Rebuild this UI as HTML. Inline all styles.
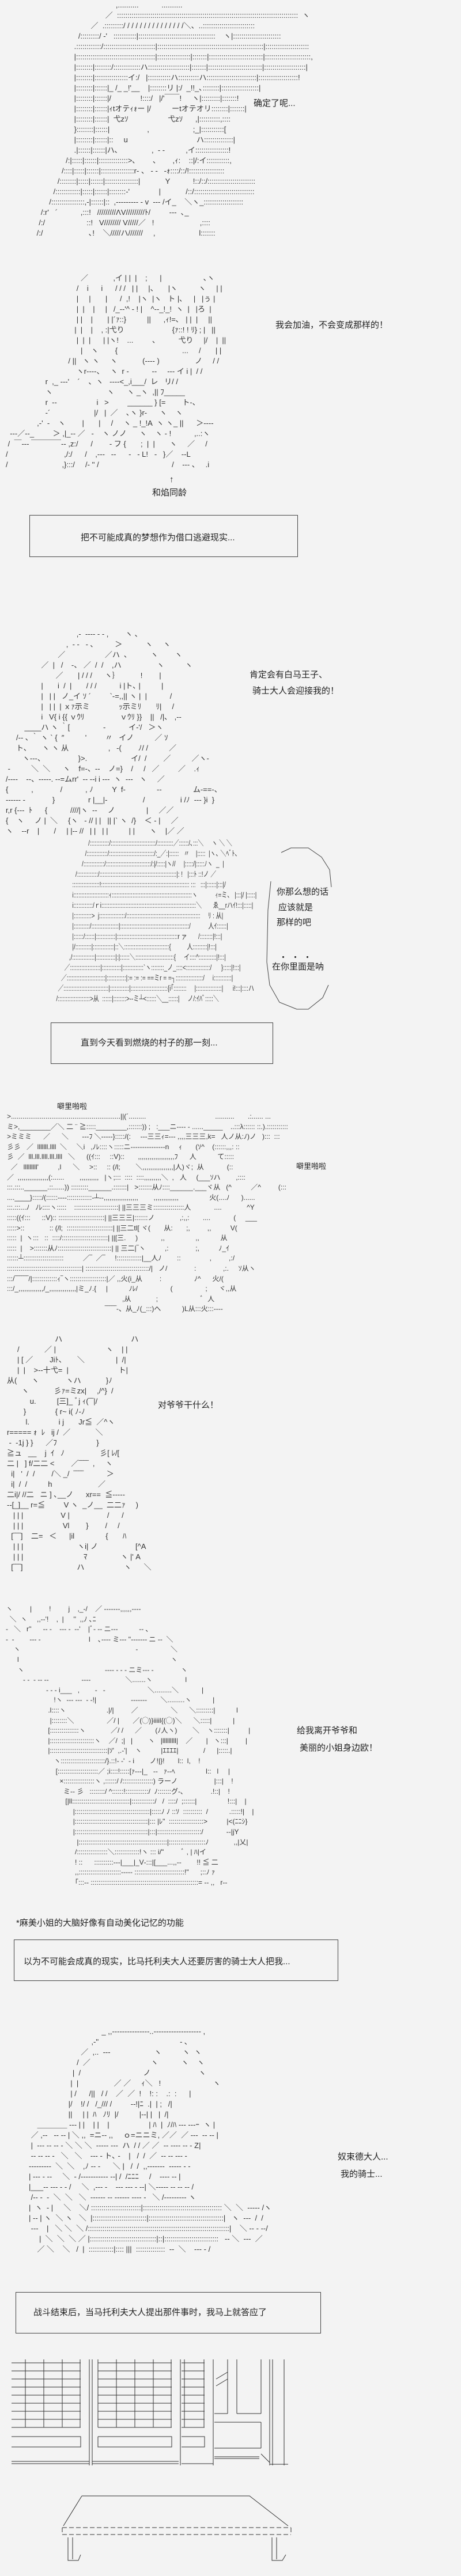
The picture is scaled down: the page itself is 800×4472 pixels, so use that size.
<!DOCTYPE html>
<html><head><meta charset="utf-8">
<style>
html,body{margin:0;padding:0;}
body{width:800px;height:4472px;background:#f3f3f3;position:relative;overflow:hidden;font-family:"Liberation Sans","Noto Sans CJK SC",sans-serif;color:#222;}
.t{position:absolute;font-size:15px;line-height:18px;white-space:nowrap;}
.box{position:absolute;border:1px solid #444;background:#f3f3f3;}
.box span{position:absolute;font-size:15px;line-height:18px;white-space:nowrap;}
pre{position:absolute;margin:0;font-family:"Liberation Sans","Noto Sans CJK JP",sans-serif;font-size:13px;line-height:18px;color:#333;white-space:pre;}
</style></head><body>

<pre style="left:60px;top:0px;">                                       ,..........           ..........
                                  ／  :::::::::::::::::::::::::::::::::::::::::::::::::::::::::::::::::::::::::::::::::::::::  ヽ
                           ／  .:::::::::/ / / / / / / / / / / / / / /＼、..:::::::::::::::::::::::::
                     /:::::::::/ ‐'   :::::::::::|:::::::::::::::::::::::::::::::::::::    ヽ|:::::::::::::::::::::::
                   .::::::::::::/:::::::::::::::::::::::::|:::::::::::::::::::::::::::::::::::::::::::::::::::|:::::::::::::::::::::
                   |::::::::::::::::::::::::::::::::::::::|::::::::::::::::|:::::::|::::::::::::::::::::::::::|::::::::::::::::::::::,
                   |::::::::|::::::::/:::::::::::::ハ::::::::::::::::::::|:::::::|::::::::::::::::::::::::::|::::::::::::::::::::|
                   |::::::::|::::::::::::::::イ:/   |:::::::::::ハ::::::::::ハ::::::::::::::::::::::::|:::::::::::::::::::!
                   |::::::::|::::::|_ /_ _!'__    |::::::::リ |:/  _!!_､::::::::|::::::::::::::::::|
                   |::::::::|::::::|/              !::::/   |/'￣￣!     ヽ|:::::::::|:::::::!
                   |::::::::|::::::|ｨtオテｨｫー |/          ーtオテオリ::::::::|:::::::|
                   |::::::::|::::::|  弋zｿ                   弋zｿ      ,|::::::::::,::::
                   }::::::::|::::::|                  ,                     ;_|:::::::::::[
                   |::::::::|::::::|::     u                                 ハ::::::::::::::|
                   .|::::::|::::::|ハ､                ,  ‐ ‐          ,イ::::::::::::::::!
               /:|:::::|::::::|::::::::::::::>､        、      ,ｨ:    ::|/:イ:::::::::::,
             /::::|:::::|::::::|::::::::::::::::r‐ 、 ‐ ‐   ‐ｫ::::/::/!:::::::::::::::::
           /::::::::|:::::|::::::|::::::::::::::::|            Y           !::/::/:::::::::::::::::::::::
         /::::::::::::|:::::|::::::|::::::::‐'              |            /::/:::::::::::::::::::::::::::::
       /::::::::::::::::,‐|::::::|::  ,‐‐‐‐‐‐‐‐‐ - v  ‐‐‐ /イ_    ＼ヽ_:::::::::::::::::::
   /:r'   ´           ,:::!   /////////ΛV/////////ﾄ/         ‐‐‐  ､_
  /:/                    ::!   V//////// V/////／   !                      ,::::
 /:/                      ､!    ＼/////ハ///////     ,                     l:::::::</pre>

<div class="t" style="left:440px;top:171px;">确定了呢...</div>

<pre style="left:10px;top:474px;">                                    ／            ,イ | |  |    ;      |                    ､ヽ
                                  /    i      i      / / /   | |     |、     |ヽ          ヽ     | |
                                  |     |       |      /  ,!    |ヽ  |ヽ   ト |､     |   |ぅ |
                                  |  |    |     |   /_-‐'^ ‐ ! |    ^‐-_!_!  ヽ  |   |ろ  |
                                  | |    |       | |´ｧ::}          ||      ,ｨ!=､   | |  |     ||
                                 |  |    |    , :|弋り                       {ｧ::! ! ﾘ} ; |   ||
                                  |  |  |      | |ヽ!    ...         、         弋り     |/    |  ||
                                    |    ヽ        {                               ...     /       | |
                              / ||   ヽ ヽ     ヽ            (‐‐‐‐ )                 ノ     / /
                                  ヽr‐‐‐‐、   ヽ  r ‐           ‐‐     ‐‐‐ イ i |  / /
                   r  ,_ ‐‐‐'    ´    、ヽ   ‐‐‐‐<_,i___/  レ   リ/ /
                   ヽ                          ヽ      ヽ _ヽ  ,|| ﾌ_____
                   r  ‐‐                   i   >         ______ } [=        ト‐、
                   ‐´                     |/   |  ／    ､ヽ }r‐      ヽ    ヽ
               ,‐'  ‐    ヽ        |       |     /     ヽ _ !_!A  ヽ ヽ_ ||      ＞‐‐‐‐
  ‐‐‐／‐‐_         ＞ ,|_‐‐ ／   ‐    ヽ ノノ      ヽ    ヽ ‐ !           ,..:ヽ
 /  ￣‐‐‐ ￣￣￣￣‐‐ ,z:/      /        ‐ フ {       ;  |  |       ヽ     ／     /
/                           ,/:/      /    ,‐‐‐   ‐‐      ‐   ‐ L!   ‐   }／    ‐‐L
/                          ,}:::/     /‐ '' /                                   /    ‐‐‐ 、   .i</pre>

<div class="t" style="left:478px;top:556px;">我会加油，不会变成那样的！</div>
<div class="t" style="left:294px;top:824px;">↑</div>
<div class="t" style="left:264px;top:847px;">和焰同龄</div>

<div class="box" style="left:51px;top:894px;width:464px;height:71px;"><span style="left:88px;top:30px;">把不可能成真的梦想作为借口逃避现实...</span></div>

<pre style="left:10px;top:1092px;">                                  ,‐  ‐‐‐‐ ‐ ‐ ,        ヽ ､
                             ,  ‐ ‐   ‐ ､          ＞           ヽ     ヽ
                         ／                   ／ハ  ､           ヽ        ヽ
                 ／  |   /    ‐、 ／  /  /    ,ハ                 ヽ          ヽ
                        ／       | / / /      ヽ｝          !        |
                 |       i  /  |       / / /           i |ト､ |          |
                 |   | |   ノ_イ ｿ ´         `‐=,,|| ヽ |  |           /
                 |   | |  | ｘｧ示ミ              ｯ示ミﾘ       ﾘ|     /
                 i   V{ i {{ ｖｳﾘ                 ｖｳﾘ }}    ||   /|､   ,‐‐
         ____ハ ヽ ｀[                ‐           イ‐'/   ＞ヽ
     /‐‐ ､ ｀ ヽ ` {  ″          ’         〃   イノ          ／ ｿ
     ト､       ヽ ヽ 从                   ,   ‐(        ﾉ/ /          ／
        ヽ‐‐‐、                }>.                     イ/  /        ／          ／ヽ‐
 ‐          ＼  ＼      ヽ    f=‐、‐‐    ノ=}    /     /   ／         ／    .ｨ
/‐‐‐‐    ‐‐、‐‐‐‐‐. ‐‐=ムrr'  ‐‐ ‐‐i i ‐‐‐  ヽ  ‐‐‐   ヽ     ／
{           ,             /           , ﾉ         Y  f‐               ‐‐               ム‐==‐、
‐‐‐‐‐‐ ‐             }                r |__|‐                 /                 i /ﾉ  ‐‐‐ }i  }
r,r {‐‐‐  ﾄ      {           ////|ヽ  ‐‐     ノ               |     ／／
{    ヽ     ノ |  ＼     {ヽ   ‐ // | |   || |` ヽ  /}    ＜ ‐ |     ／
ヽ    ‐‐r    |       /     | |‐‐ //   | |   | |          | |       ヽ    |／ ／</pre>

<div class="t" style="left:433px;top:1163px;">肯定会有白马王子、</div>
<div class="t" style="left:438px;top:1191px;">骑士大人会迎接我的！</div>

<pre style="left:92px;top:1455px;transform:scaleX(0.77);transform-origin:0 0;">                      /::::::::::::/::::::::::::::::::::::::::::/::::::::::／::::::/､:::＼     ヽ ＼ ＼
                    /:::::::::::::/::::::::::::::::::::::::::::/:_／:|::::::   〃    |:::::  |ヽ､ ＼ﾍﾞﾄ、
                  /:::::::::::::/::::::::::::::::::::::::::::/:|/:::::|ヽ//     |:::::/|:::::ﾉヽ  _  |
              /:::::::::::::/::::::::::::::::::::::::::::::::::::::::::::::::|: !   |:::ﾄ ::!ノ ／
            :::::::::::::::::!::::::::::::::::::::::::::::::::::::::::::::::::::::::: :::   :::|::::::|:::|/
            i::::::::::::::::::::::ｨ::::::::::::::::::::::::::::::::::::::::::::::::::ヽ           ｨ=ミ、 |:::|/ |:::::|
            i::::::::::::/ｒi:::::::::::::::::::::::::::::::::::::::::::::::::::::::::::＼       ゑ__rハｲ!:::|:::::|
            |:::::::::::>  j::::::::::::::::/::::::::::::::::::::::::::::::::::::::::::::::     ﾘ : 从|
            |::::::::::/:::::::::::::::::|:::::::::::::::::::::::::::::::::::::::::::/           人ｲ::::::|
            |::::::/::::::|::::::::::::|::::::::::::::::::::::::::::::::::::::r ァ       /::::::::|!:::|
            |/::::::::::|:::::::::::::|::＼::::::::::::::::::::::::::::{          人:::::::::|!:::|
          ,/::::::::::::::|::::::::::::|:|::::::＼::::::::::::::::::::::::{     イ::::^:::::::::::|!:::|
       ／:::::::::::::::::::|::::::::::::|:::::::::::::`ヽ::::::::_ノ_::::<:::::::::::::::/      }:::::|!:::|
     ／::::::::::::::::::::::::|::::::::::::|:= := := ==ミr = =┐:::::::::::::::::/     i:::::::::::|
   ／::::::::::::::::::::::::::::|::::::::::::|:::::::::::::::::::::::{i｢::::::::     |::::::::::::::::|      i!:::|::::ハ
  /::::::::::::::::::::>从  ::::::|::::::::>‐‐ミ┴<::::::＼__::::::|     ノ/:ｲﾊﾞ:::::＼</pre>

<svg style="position:absolute;left:460px;top:1470px;" width="120" height="285" viewBox="0 0 120 285">
<path d="M28 10 L45 2 L75 2 L98 18 L112 40 L115 70 M10 60 L5 110 L3 200 L8 240 L25 270 L55 282 L75 282 L100 262 L110 240" fill="none" stroke="#444" stroke-width="1"/>
</svg>
<div class="t" style="left:480px;top:1540px;">你那么想的话</div>
<div class="t" style="left:483px;top:1567px;">应该就是</div>
<div class="t" style="left:480px;top:1593px;">那样的吧</div>
<div class="t" style="left:484px;top:1654px;letter-spacing:6px;">・・・</div>
<div class="t" style="left:472px;top:1670px;">在你里面是呐</div>

<div class="box" style="left:88px;top:1775px;width:384px;height:70px;"><span style="left:51px;top:26px;">直到今天看到燃烧的村子的那一刻...</span></div>

<div class="t" style="left:99px;top:1912px;font-size:13px;">噼里啪啦</div>
<div class="t" style="left:514px;top:2016px;font-size:13px;">噼里啪啦</div>

<pre style="left:12px;top:1930px;font-size:12px;line-height:17.6px;">&gt;.........................................................||(´.........                                    ..........       .:...... ...
ミ&gt;,________／＼ 二 ¨ ≧:::::________,:::::::)) ;   :___ニ‐‐‐‐ ‐ ......_____    ..:::λ:::::: ::.).:::::::::::
&gt;ミミミ      ／      ＼       ‐‐‐ﾌ ＼‐‐‐‐‐}:::::/(:     ‐‐‐三三ｨ=‐‐‐ ,,,,三三三,k=   人ノ从:ﾉ)ノ   ):::  :::
彡彡   ／  lllllll.llll  ＼     ＼i   ,ﾉﾚ::::ヽ:::::ニ‐‐‐‐‐‐‐‐‐‐‐‐‐‐‐n     ｨ       (ｿ^    (::::::,,,: ::
彡  ／  lll.lll.llll.lll.llll   ＼      ((ｲ:::     ::V)::       ,,,,,,,,,,,,,,,,,,,ﾌ      人           て:::::
  ／   lllllllll'          ,l      ＼     &gt;::     :: (/l;        ＼,,,,,,,,,,,,,,,,|人)ヾ;  从            (::
／  ,,,,,,,,,,,,,,,,(:......        ,,,,,,,,,,   |ヽ;:::  ::::  ::::,,,,,,,,,＼  ,   人     (___ｿハ        ,::::
:::.:::..______.::......)) :::::::::______.:::::::|   &gt;:::::::从ﾉ::::______.___ヾ从   (^          ／^         (:::
....____}:::::/(::::::‐‐‐‐:::::::::::::‐┴‐‐,,,,,,,,,,,,,,,,,,        ,,,,,,,,,,,,,                火(....ﾉ      )......
:::.:::...ﾉ   ﾉﾚ::::ヽ:::::    :::::::::::::::::::::::| ||三三三ミ::::::::::::::::人            ....             ^Y
:::::((ｲ:::      ::V):: ::::::::::::::::::::::::| ||三三三|:::::::ノ             ,:,,:       ....            (     ___
:::::&gt;::             :: (/l;  ::::::::::::::::::::::::| ||三二tl[ ヾ(       从:       ;,         ,,          V(
:::::  |  ヽ:::   ::  ::::/::::::::::::::::::::::::| ||[三.     )            ,,                ,,           从
:::::  |    &gt;:::::::从ﾉ::::::::::::::::::::::::::::| || 三二|‾ヽ          ,:              ;,          ﾉ_ｲ
::::::┴:::::::::::::::::::::          ／‾  ／‾     !:::::::::::::|__人ﾉ        ::               ,         ,:/
:::::::::::::::::::::::::::::::::::::::| :::::::::::::::::::::::::::::::::/|   ノ/              :              ,:.     ｿ从ヽ
:::/‾‾‾‾‾‾/|:::::::::::::ｨ‾ヽ:::::::::::::::::::|／ ,,火(i_从         :                 ﾉ^      火/(
:::/_,,,,,,,,,,,,,/_,,,,,,,,,,,,,,|ミ_ﾉ.{     |           ﾉﾚ/                 (                 ;      ヾ,,从
                                                            ,从             ;                      ﾞ  人
                                                   ‾‾‾‾‾‐、从_ﾉ(_:::)へ           )L从:::火:::‐‐‐‐</pre>

<pre style="left:12px;top:2316px;">                       ハ                                 ハ
     /            ／ |                        ヽ    | |
     | [ ／        Jiﾄ､       ＼               |  /|
     |  |    &gt;‐‐十弋=  |                        ト|
从(       ヽ             ヽハ            }ﾉ
       ヽ            彡ｧ=ミzx|     ,/^}  /
           u.          [三]_ ﾞj ｨ(‾‾|/
        }              { r~ i( ﾉ‐ﾉ
         l.              i j       Jr≦  ／^ヽ
r===== ｫ  ﾚ   ij /  ／            ＼
 ‐  ‐1j } }      ／ﾌ                   }
≧ュ   __    j  ｲ   ﾉ                 彡[ ﾚ/[
二 |   ] f/二二 &lt;        ／‾‾‾‾  ,     ヽ
  i|   '  /  /        /＼ _/  ‾‾‾‾           ＞
  i|  /  /          h                      ／
二i|/ //二   ニ ] ､__ノ      xr==  ≦‐‐‐‐‐
‐‐[_]__ r=≦         V ヽ  _ノ__  二二ｧ     )
   | | |                  V |                  /      /
   | | |                   Vl        }        /     /
  [‾‾‾]    二=   ＜      |il               {       ﾊ
   | | |                          ヽi| ノ                  [^A
   | | |                             ﾏ                ヽ |' A
  [‾‾‾]                          ハ                   ヽ      ＼</pre>

<div class="t" style="left:274px;top:2431px;">对爷爷干什么！</div>

<pre style="left:10px;top:2785px;font-size:12px;line-height:17.6px;">ヽ         |         !         j    ,_‐/    ／ ‐‐‐‐‐‐‐,,,,,,‐‐‐‐
  ＼  ヽ     ,,‐‐'!    ,  |     ''  ,,ﾉ ､ﾆ
‐   ＼   r''      ‐‐ ‐    ‐‐‐ ‐  ‐‐'    |ﾞ‐ ‐‐ ニ‐‐‐           ‐‐ ､
‐  ‐        ‐‐‐ ‐                         l    ､‐‐‐‐ ミ‐‐‐ ''‐‐‐‐‐‐‐ ニ ‐‐  ＼
    ヽ                                                            ‐                 ＼
      l                                                                               ヽ
      ヽ                                          ‐‐‐‐ ‐ ‐ ‐ ニミ‐‐‐ ‐              ヽ
         ‐ ‐  ‐ ‐‐ ‐‐                 ‐‐‐‐                  ＼.......ヽ                 l
                     ‐ ‐ ‐ i___   ,        ‐   ‐                      ＼.........＼            |
                         !ヽ  ‐‐‐ ‐‐‐  ‐ ‐!|                  ‐‐‐‐‐‐‐       ＼.........ヽ           |
                      .l::::ヽ                     .|/|         ／                 ＼      ＼:::::::::|           l
                       |::::::::＼                 ／/ |       ／(◯)}iiiil{(◯)＼      ＼:::::|           |
                      [:::::::::::::::ヽ             ／/ /      ／       (ﾉ人ヽ)        ＼    ヽ:::::::|          |
                      |:::::::::::::::::::::::ヽ    ／/  ;|   |        ヽ   |lllllllll|    ／       |   ヽ:::|         |
                      |::::::::::::::::::::::::::::::|ｿ'  ,.‐'|    ヽ          |ｴｴｴｴ|             /      |:::::.|
                         ヽ:::::::::::::::::::::::/}.::!‐ ‐'  ‐ i        ノ!|}!       l::  l,    !
                          [:::::::::::::::::::::／ ;i::::!:::::[ｧ‐‐‐|_   ‐‐   ｧ‐‐ﾍ                l::   l     |
                            ×::::::::::::::::ヽ ,::::::/ /::::::::::::::::) ラーノ                   |:::|    !
                              ミ‐‐ 彡   ::::::::/ ^::::::!::::::::::::/  ﾉ:::::::グ‐､              .!::|    !
                               [|ll::::::::::::::::::::::::::::::|::::::::::::/   /  ::::/  ;::::::|                !:::|    |
                                   |:::::::::::::::::::::::::::::::::::::::|:::::ﾉ ﾉ ::ｿ  ::::::::::  /           .:::::!|    |
                                   |::::::::::::::::::::::::::::::::::::::|::: |ﾚ"  ::::::::::::::::::&gt;          |&lt;(ﾆﾆｼ}
                                   |::::::::::::::::::::::::::::::::::::::|:::|:::::::::::::::::::::::/            ‐‐|jY
                                     |::::::::::::::::::::::::::::::::::::::::::::::|:::::::::::::::::::ﾉ             ,,|乂|
                                    /::::::::::::::::＼:::::::::::::!ヽ ::: i/"         ﾞ , | ﾊ|イ
                                    ! ::      ::::::::::‐‐‐|___|_V‐:::|[___...,,‐‐        !! ≦ 二
                                    ,,::::::::::::::::::::::‐‐‐‐‐ ::::::::::::::::::::::::::!"      ;::ﾉ ｧ
                                    ｢:::‐‐ ::::::::::::::::::::::::::::::::::::::::::::::::::::::::= ‐‐ ,,   r‐‐</pre>

<div class="t" style="left:515px;top:2996px;">给我离开爷爷和</div>
<div class="t" style="left:520px;top:3026px;">美丽的小姐身边欧！</div>

<div class="t" style="left:28px;top:3330px;">*麻美小姐的大脑好像有自动美化记忆的功能</div>

<div class="box" style="left:24px;top:3367px;width:561px;height:70px;"><span style="left:16px;top:29px;">以为不可能会成真的现实，比马托利夫大人还要厉害的骑士大人把我...</span></div>

<pre style="left:50px;top:3518px;">                                   _ ,,‐‐‐‐‐‐‐‐‐‐‐‐‐‐‐..‐‐‐‐‐‐‐‐‐‐‐‐‐‐‐‐‐‐‐ ,
                              ,‐''                                       ‐ ､
                         ／  ,..  ‐‐‐                     ヽ          ヽ  ヽ
                       /  ／                             ヽ           ヽ    ヽ
                     |  /                              ノ                       ヽ
                    |  |                 ／ ／     ｨ＼   !                         ヽ
                    | /      /||   / /    ／  ／  !    !: :    .:  :      |
                   |/    !/ /   /_/// /         ‐‐!|ﾆ  .|  | ;   /|
                   ||     | |  ﾊ   ﾉﾘ  |/          |‐‐| |   |  /|
    ＿＿＿＿ ‐‐‐ | |    | |    |                   | ﾊ  |  ﾉ/ﾊ ‐‐‐ ‐‐‐ｰ  ヽ |
 ／ ,‐‐   ‐‐ ‐‐ | ＼ ,,  =ニ‐‐ ,,     ｏ=ニニミ, ／／  ／ ‐‐‐  ‐‐ ‐‐ |
 |  ‐‐‐ ‐‐ ‐‐ ‐ ＼ ＼ ＼  ‐‐‐‐‐ ‐‐‐  ハ  / / ／ ／  ‐‐ ‐‐‐‐ ‐‐ ‐ Z|
 ‐‐ ‐‐ ‐‐ ‐   ＼   ＼    ‐‐‐ ‐ ト､ ‐    |   /  /  ／  ‐‐ ‐‐ ‐‐‐ ‐
‐‐‐‐‐‐‐‐‐  ＼  ＼    ,ﾉ ‐‐ ‐      ＼ |   /  /  ,,‐‐‐‐‐‐‐  ‐‐‐‐‐ ‐ ‐
| ‐‐‐ ‐ ‐‐     ＼  ‐ /‐‐‐‐‐‐‐‐‐‐‐ ‐‐| /  /ﾆﾆﾆ     /    ‐‐‐‐ ‐‐ |
|___‐‐ ‐‐‐ ‐ ‐ /     ＼  ,‐‐‐ ‐    ‐‐‐ ‐‐‐ ‐ ‐‐| ＼‐‐‐‐‐ ‐‐ ‐‐ ‐‐ /
 /‐‐ ‐  ‐  ＼  ＼   ＼  ‐‐‐‐‐‐ ‐‐ ‐‐‐‐‐‐ ‐‐‐‐ ‐   ＼ /‐‐‐‐‐‐‐‐‐ ヽ
|  ヽ  ‐ |     ＼    ＼/ ::::::::::::::::::::::::|:::::::::::::::::::::::::::::::::::::: ＼  ＼  ‐‐‐‐‐ /ヽ
| ‐‐ | ヽ  ＼ ヽ   ＼  |::::::::::::::::::::::::::|::::::::::::::::::::::::::::::::::::|   ヽ  ‐‐‐  /  /
 ‐‐‐    |   ＼ ＼  ＼ /::::::::::::::::::::::::::::::::::::::::::::::::::::::::::::::::::::|    ＼ ‐‐ ‐ ‐‐/
     |  ＼  ＼  ＼ ／ |::::::::::::::::::::::::::::::::|::|::::::::::::::::::::::::::   ‐‐ ＼  ‐‐‐  ／
    ／ ＼    ＼   /  |  ::::::::::::|:::: |||  ::::::::::::::  ‐‐  ＼    ‐‐‐ ‐ /</pre>

<div class="t" style="left:586px;top:3736px;">奴束德大人...</div>
<div class="t" style="left:591px;top:3766px;">我的骑士...</div>

<div class="box" style="left:27px;top:3979px;width:528px;height:70px;"><span style="left:30px;top:26px;">战斗结束后，当马托利夫大人提出那件事时，我马上就答应了</span></div>

<svg style="position:absolute;left:0;top:4090px;" width="520" height="215" viewBox="0 0 520 215" fill="none" stroke="#333" stroke-width="1">
<g>
<path d="M20 12 H140 M20 26 H140 M20 40 H140 M20 54 H140 M20 68 H140 M20 82 H140 M20 96 H140 M20 110 H140 M20 124 H140"/>
<path d="M44 6 V124 M76 6 V124 M108 6 V124 M139 6 V124 M155 6 V190 M160 6 V190"/>
<path d="M170 12 H298 M170 26 H298 M170 40 H298 M170 54 H298 M170 68 H298 M170 82 H298 M170 96 H298 M170 110 H298 M170 124 H298"/>
<path d="M170 6 V124 M202 6 V124 M234 6 V124 M266 6 V124 M297 6 V124 M313 6 V190"/>
<path d="M315 12 H355 M315 26 H355 M315 40 H355 M315 54 H355 M315 68 H355 M315 82 H355 M315 96 H355 M315 110 H355 M315 124 H355"/>
<path d="M320 6 V124 M354 6 V124 M370 6 V190 M395 6 V100 M411 6 V100 M453 6 V100 M468 6 V190 M473 6 V190 M493 6 V190"/>
<path d="M372 100 H395 M411 100 H453 M372 115 H453 M372 160 H453 M453 115 V160 M375 40 L395 28 M375 52 L395 40"/>
<path d="M20 140 H140 V158 H20 M170 140 H298 V158 H170 V140 M315 140 H355 V158 H315"/>
<path d="M20 183 H155 M20 187 H155 M160 183 H310 M160 187 H310 M315 187 H370 M372 175 H450 M372 178 H450 M453 170 L468 185 M468 188 H500"/>
</g>
</svg>

<svg style="position:absolute;left:100px;top:4325px;" width="420" height="135" viewBox="0 0 420 135" fill="none" stroke="#333" stroke-width="1">
<path d="M42 8 H333 L400 60 M42 8 L10 60" />
<path d="M8 63 H405" stroke-dasharray="8 4"/>
<path d="M8 63 V75 M405 63 V75 M8 75 H405" stroke-dasharray="8 4"/>
<path d="M18 80 V120 H36 L40 110 M26 80 V118 M372 80 V120 H390 L396 110 M380 80 V118"/>
</svg>

</body></html>
